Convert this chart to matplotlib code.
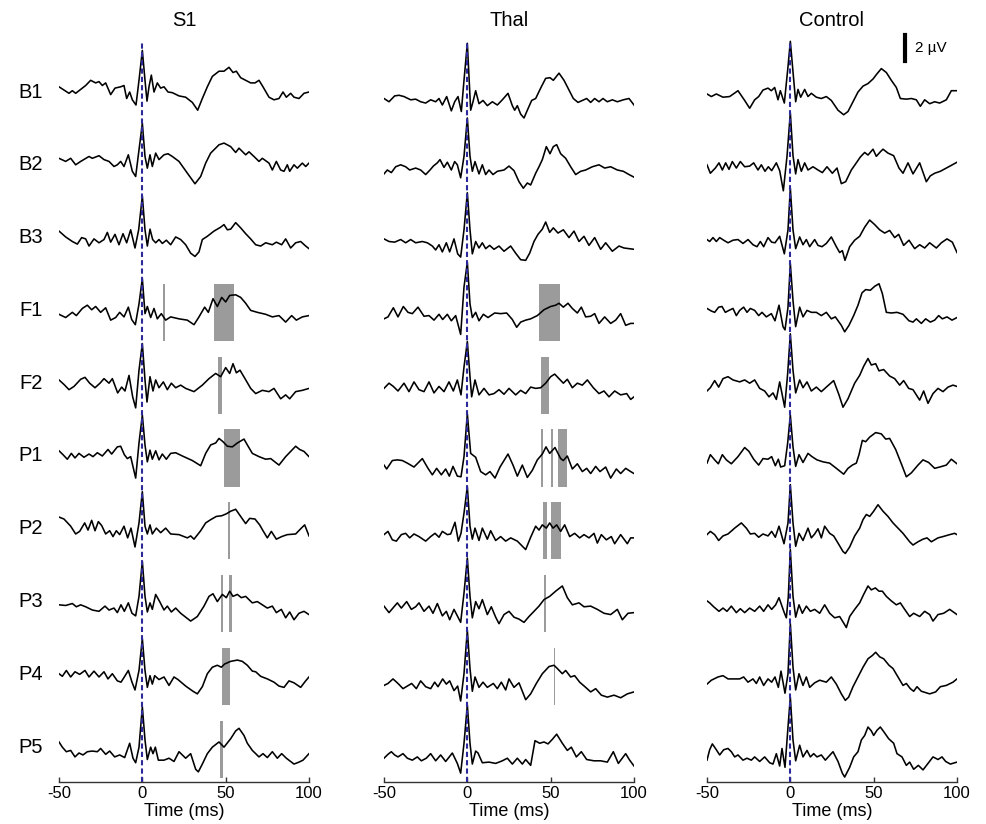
import matplotlib
matplotlib.use("Agg")
import matplotlib.pyplot as plt

plt.rcParams["font.family"] = ["Liberation Sans", "DejaVu Sans"]
plt.rcParams["axes.unicode_minus"] = False

COLUMNS = ["S1", "Thal", "Control"]
ROWS = ["B1", "B2", "B3", "F1", "F2", "P1", "P2", "P3", "P4", "P5"]
XTICKS = [-50, 0, 50, 100]
ROW_STEP = 5.6  # uV between stacked traces
SCALE_UV = 2

# averaged traces, (time ms, amplitude uV)
S1_B1 = [(-50, 0.4), (-44, -0.1), (-42, 0.1), (-40, -0.1), (-34, 0.5), (-31, 0.9), (-28, 0.7), (-26, 0.8),
         (-24, 0.5), (-22, 0.7), (-19, -0.2), (-16.4, 0.3), (-13, 0.4), (-11, 0.5), (-9.4, -0.5), (-7.6, 0.0),
         (-6, -0.6), (-3.8, -1.0), (-2, 0.9), (0, 3.2), (1.6, 0.9), (2.8, -0.7), (4, 0.4), (5.4, 1.3),
         (7, 0.0), (9, 0.7), (11, 0.3), (13, 0.4), (15.4, 0.0), (18, -0.05), (22, -0.3), (26, -0.4),
         (30, -0.8), (33.2, -1.4), (36, -0.5), (39, 0.4), (42, 1.2), (46, 1.6), (49, 1.6), (52, 1.9),
         (54.4, 1.5), (56.4, 1.6), (59, 1.1), (62, 0.9), (65, 0.7), (67.6, 0.7), (70, 0.9), (72.4, 0.4),
         (76, -0.4), (79, -0.6), (82, -0.5), (84.4, 0.0), (86.4, -0.4), (89, -0.1), (91, -0.4), (94, -0.5),
         (97, -0.1), (100, 0.0)]
S1_B2 = [(-50, 0.5), (-46, 0.26), (-43, 0.5), (-40, 0.0), (-37, 0.26), (-32, 0.64), (-30, 0.5), (-26, 0.7),
         (-23, 0.4), (-20, 0.26), (-17, -0.13), (-15, 0.0), (-13, 0.26), (-11, -0.13), (-8.4, 0.77), (-6, -0.5),
         (-4, -0.9), (-2, 1.15), (0, 3.2), (1.6, 0.64), (3, -0.26), (4.6, 0.77), (6, -0.13), (8, 0.9),
         (10, 0.4), (13, 0.77), (15.4, 0.85), (18, 0.64), (22, 0.26), (27, -0.64), (31.6, -1.46), (35, -0.9),
         (38, 0.13), (41, 0.9), (46, 1.54), (49, 1.67), (53, 1.4), (56, 0.95), (58, 1.28), (62, 0.77),
         (64, 1.0), (67, 0.64), (70, 0.26), (72, 0.5), (76, 0.13), (78, -0.4), (80.4, 0.26), (83, -0.4),
         (85, -0.5), (87, 0.0), (88.4, -0.5), (91, 0.0), (93, -0.26), (96, 0.13), (98, -0.13), (100, 0.13)]
S1_B3 = [(-50, 0.5), (-46, 0.05), (-42, -0.3), (-39, -0.5), (-36.4, 0.0), (-34, -0.1), (-32, -0.65), (-29, -0.1),
         (-26, -0.4), (-23, -0.15), (-21, 0.4), (-19, -0.35), (-16.4, 0.25), (-14, -0.55), (-11.6, 0.3), (-9.4, -0.4),
         (-7, 0.6), (-4.4, -0.8), (-2.2, 0.6), (0, 3.2), (1.6, 0.6), (3, -0.65), (4.6, 0.65), (6.2, -0.15),
         (8, -0.4), (10, -0.15), (12, -0.45), (14.4, -0.2), (17, -0.55), (20, 0.05), (23, -0.15), (26, -0.55),
         (29, -1.2), (31.6, -1.45), (34, -1.1), (36, -0.15), (39, 0.1), (43, 0.5), (47, 0.8), (49, 1.0),
         (51, 0.6), (53, 0.65), (56, 1.15), (59, 0.75), (62, 0.3), (65, -0.1), (68, -0.55), (71, -0.65),
         (74, -0.4), (78, -0.55), (80.4, -0.35), (83.6, -0.55), (86, -0.1), (89, -0.8), (92, -0.4), (95, -0.3),
         (98, -0.65), (100, -0.85)]
S1_F1 = [(-50, -0.3), (-46, -0.55), (-42, -0.15), (-39.6, -0.4), (-36, 0.15), (-33, 0.4), (-30.4, 0.05), (-28, 0.3),
         (-25, -0.15), (-22, 0.2), (-19, -0.75), (-16, -0.55), (-13.6, -0.15), (-11, -0.5), (-8.4, 0.25), (-6.4, -0.7),
         (-4.2, -1.1), (-2, 0.5), (0, 2.45), (1.6, -0.25), (3, 0.3), (5, -0.55), (7, 0.15), (9, -0.65),
         (11.4, -0.25), (14, -0.75), (17, -0.5), (22, -0.65), (27, -0.75), (31, -1.1), (34, -0.5), (37.4, 0.25),
         (39.6, -0.15), (42.4, 0.9), (45, 0.3), (47.6, 1.0), (50, 0.65), (52.4, 1.15), (56, 1.2), (59, 1.0),
         (62, 0.55), (65, 0.0), (69, -0.15), (74, -0.3), (78, -0.5), (82, -0.4), (86, -0.9), (89.6, -0.4),
         (92.4, -0.75), (96, -0.5), (100, -0.4)]
S1_F2 = [(-50, 0.25), (-47, -0.1), (-44, -0.5), (-41, -0.25), (-37, 0.3), (-34.4, 0.45), (-31.6, 0.0), (-28.4, -0.35),
         (-25.4, 0.0), (-23, 0.35), (-20, 0.0), (-18, 0.35), (-14.8, -0.75), (-12.4, -0.3), (-10.4, -0.6), (-8, 0.6),
         (-5.8, -1.05), (-4, -1.9), (-2, 1.0), (0, 3.05), (1.6, 0.25), (2.8, -1.45), (4.6, 0.5), (6.4, -0.6),
         (8, 0.25), (10, -0.35), (12.6, 0.1), (15, -0.5), (17.4, 0.0), (20, -0.35), (23, -0.15), (26, -0.4),
         (31, -0.65), (36, -0.15), (40, 0.35), (44, 0.75), (47, 0.5), (50, 1.2), (52.4, 0.75), (54.4, 1.5),
         (56.4, 0.8), (58.6, 1.0), (61.6, 0.35), (65, -0.4), (68, -0.8), (72, -0.55), (76, -0.65), (79, -0.4),
         (83, -1.2), (86, -0.9), (88.4, -1.2), (92, -0.65), (96, -0.55), (100, -0.4)]
S1_P1 = [(-50, 0.4), (-47.6, 0.1), (-45, -0.25), (-42.6, 0.2), (-40.4, -0.15), (-38, 0.2), (-35, -0.1), (-32, 0.15),
         (-29.6, -0.05), (-27, 0.25), (-24, 0.0), (-20.6, 0.5), (-18.4, 0.15), (-15, 0.7), (-13, 0.75), (-10.8, 0.1),
         (-9, -0.2), (-7, -0.05), (-4, -1.7), (-2, 1.0), (0, 3.15), (1.6, 0.85), (3, -0.45), (4.6, 0.45),
         (6, -0.25), (8, 0.4), (10, -0.3), (12, 0.15), (14.4, -0.25), (17, 0.2), (20, 0.25), (24, 0.0),
         (30, -0.35), (35, -0.75), (38, 0.2), (41, 0.85), (44, 1.0), (46, 1.35), (48.4, 1.1), (51, 0.75),
         (54, 0.7), (57, 1.0), (61, 1.3), (63, 0.85), (66, 0.2), (70, -0.05), (74, -0.25), (77, -0.2),
         (82, -0.7), (86, -0.05), (89, 0.35), (92, 0.75), (94.4, 0.5), (97, 0.35), (100, -0.05)]
S1_P2 = [(-50, 0.9), (-47, 0.75), (-43, 0.2), (-40, -0.4), (-37.6, -0.2), (-34.6, 0.45), (-32.6, -0.1), (-30.4, 0.65),
         (-28.4, -0.15), (-26.4, 0.55), (-24.4, 0.25), (-22, -0.4), (-19.6, -0.15), (-17.6, -0.6), (-15.6, -0.15), (-13.6, -0.45),
         (-11, 0.2), (-8.8, -0.7), (-6.8, 0.05), (-4.4, -1.4), (-2, 0.45), (0, 2.85), (1.6, 0.2), (3, -0.4),
         (4.6, 0.3), (6, -0.4), (8.4, 0.05), (11, -0.3), (14, 0.05), (17, -0.4), (22, -0.45), (27, -0.7),
         (29, -0.55), (31, -0.8), (35, -0.15), (38, 0.45), (41, 0.7), (44.4, 0.95), (47.6, 1.0), (50.4, 1.15),
         (53, 1.35), (56, 1.5), (59, 0.95), (62, 0.4), (64.4, 0.8), (67.6, 0.75), (70.4, 0.3), (72.4, -0.15),
         (75, -0.7), (77.4, -0.2), (80.4, -0.8), (83.6, -0.6), (87, -0.45), (92, -0.4), (95.4, 0.05), (97.4, 0.3),
         (100, -0.55)]
S1_P3 = [(-50, -0.25), (-46, -0.3), (-42, -0.15), (-39.6, -0.4), (-37, -0.25), (-34, -0.4), (-30, -0.65), (-26, -0.75),
         (-22.4, -0.35), (-20, -0.65), (-17, -0.5), (-15, -0.85), (-12.8, -0.25), (-10.8, -0.75), (-8.4, -0.1), (-6.2, -0.9),
         (-4, -1.1), (-2, 0.4), (0, 3.1), (1.6, 0.4), (3, -0.8), (4.6, -0.1), (6, -0.6), (8, 0.55),
         (10.4, 0.0), (13, -0.65), (15, -0.35), (17.4, -0.8), (20, -0.5), (23, -0.9), (26, -1.2), (29, -1.5),
         (33, -1.15), (37, -0.35), (40, 0.4), (42.4, 0.6), (45, 0.0), (48, 0.55), (50.4, 0.3), (52.4, 0.8),
         (54.4, 0.4), (57, 0.55), (59.4, 0.3), (62, 0.4), (66, -0.1), (69, 0.0), (72, -0.25), (75, -0.5),
         (78, -0.35), (80.4, -0.85), (83.4, -0.6), (86, -1.25), (88.4, -0.8), (91, -1.4), (94, -0.9), (97, -0.75),
         (100, -1.0)]
S1_P4 = [(-50, 0.05), (-48, -0.15), (-45.6, 0.3), (-43, -0.2), (-40.4, 0.2), (-37.6, 0.0), (-34.4, 0.3), (-32, -0.2),
         (-29, 0.25), (-26, -0.2), (-23, 0.2), (-20.6, -0.35), (-18, 0.05), (-15, -0.5), (-12.8, -0.6), (-10.8, -0.2),
         (-8.4, 0.3), (-6.2, -0.6), (-4.4, -1.2), (-2, 0.3), (0, 2.75), (1.6, 0.3), (3, -1.0), (4.6, -0.1),
         (6, -0.75), (7.4, -0.1), (10, -0.4), (13, -0.2), (16, -0.85), (19, -0.2), (21.4, -0.4), (26, -0.9),
         (30.4, -1.3), (33, -1.5), (36, -0.95), (39, 0.05), (42, 0.55), (45, 0.7), (47.4, 0.55), (49.4, 0.8),
         (53, 1.0), (57, 1.1), (60, 1.0), (63, 0.7), (66, 0.25), (68, 0.2), (71, -0.15), (75, -0.35),
         (79, -0.6), (82, -0.9), (85, -1.0), (88, -0.5), (91, -0.65), (95, -1.0), (98, -0.5), (100, -0.2)]
S1_P5 = [(-50, 0.4), (-48, 0.0), (-45.6, -0.35), (-43, -0.25), (-40.4, -0.75), (-38, -0.45), (-35.6, -0.6), (-33, -0.35),
         (-30, -0.3), (-27, -0.35), (-25, -0.1), (-22, -0.55), (-19.6, -0.3), (-16.6, -0.75), (-13.6, -0.6), (-10.6, -0.8),
         (-7.6, 0.3), (-5.6, -0.85), (-4, -1.2), (-2, 0.0), (0, 3.1), (1.6, 0.55), (3, -0.95), (5, 0.0),
         (6.4, -0.5), (7.8, 0.0), (9.6, -1.0), (13, -1.0), (16, -0.85), (19, -1.1), (22, -0.35), (26, -0.85),
         (29, -0.5), (32, -1.7), (33.6, -1.9), (36, -1.3), (39, -0.5), (42, 0.0), (46, 0.4), (49, 0.0),
         (53, 0.65), (56, 1.25), (58, 1.45), (61, 0.9), (63, 0.3), (66, -0.25), (70, -0.75), (72.4, -0.5),
         (75, -0.8), (78, -0.35), (81, -0.85), (83.6, -0.5), (86.4, -0.85), (91, -1.3), (94, -1.15), (96.4, -1.0),
         (100, -0.5)]

THAL_B1 = [(-50, -0.5), (-47, -0.75), (-43.6, -0.3), (-41, -0.25), (-38, -0.35), (-34, -0.6), (-31, -0.55), (-28, -0.75),
           (-25, -0.85), (-22, -0.6), (-19, -0.75), (-17, -0.5), (-15, -1.0), (-12.4, -0.35), (-9.6, -1.45), (-7.6, -0.75),
           (-5.6, -0.35), (-3.6, -1.5), (-2, 0.9), (0, 3.75), (2, -1.4), (3.4, -0.75), (5, 0.1), (7, -0.9),
           (9.4, -0.65), (12, -1.05), (15, -0.75), (18, -1.0), (21, -0.6), (24.4, -0.1), (27, -1.05), (28.4, -1.4),
           (30, -1.05), (32, -1.7), (34, -2.0), (36, -1.4), (38.6, -0.65), (41, -0.5), (44, 0.3), (47, 1.05),
           (49.6, 1.1), (51.6, 0.9), (55, 1.45), (58, 0.9), (61, 0.15), (63.6, -0.5), (66.4, -0.8), (69, -0.65),
           (71.6, -0.5), (74, -0.8), (76.4, -0.5), (79, -0.75), (81.4, -0.5), (84, -0.75), (87, -0.6), (90, -0.75),
           (93.6, -0.6), (97, -0.5), (100, -1.0)]
THAL_B2 = [(-50, -0.7), (-48, -0.4), (-45.6, -0.6), (-43, -0.15), (-40, 0.0), (-37, -0.15), (-34.6, -0.4), (-31, -0.25),
           (-28, -0.4), (-25, -0.75), (-22.4, -0.4), (-20.4, -0.1), (-18, 0.15), (-16.4, 0.4), (-14, -0.2), (-12, 0.2),
           (-9.6, -0.4), (-7.6, 0.25), (-6, 0.0), (-4, -1.0), (-2, 0.65), (0, 3.6), (1.6, 0.65), (3, -0.5),
           (4.6, 0.25), (7, -0.7), (9, 0.0), (11, -0.75), (13, -0.4), (15.4, -0.75), (18, -0.5), (22, -0.4),
           (25, -0.1), (28, -0.45), (31, -1.3), (33.6, -1.8), (36, -1.4), (38, -1.55), (41, -0.65), (43, -0.15),
           (45, 0.4), (47.4, 1.4), (49.6, 0.85), (51.6, 1.4), (53.6, 1.55), (56, 0.85), (59, 0.5), (62, -0.15),
           (65, -0.75), (68, -0.5), (71, -0.4), (75, -0.15), (79, 0.0), (82.4, -0.25), (86, -0.15), (90, -0.4),
           (93.6, -0.5), (97, -0.75), (100, -0.95)]
THAL_B3 = [(-50, -0.1), (-47, -0.3), (-43.6, -0.35), (-40, -0.15), (-37, -0.4), (-34, -0.15), (-31, -0.4), (-27, -0.3),
           (-24, -0.4), (-21, -0.65), (-19, -0.95), (-17, -0.55), (-15, -1.1), (-12.6, -0.4), (-10.6, -1.1), (-8, -0.1),
           (-5.8, -1.25), (-4, -1.5), (-2, 0.6), (0, 3.45), (1.6, 0.6), (3, -1.25), (5, -0.3), (7, -0.8),
           (9, -0.4), (11, -0.85), (13.4, -0.6), (16, -0.9), (19, -0.65), (22, -1.05), (26, -0.65), (29, -1.2),
           (32, -1.7), (35, -1.75), (37.4, -1.2), (40, -0.3), (42.4, 0.25), (45, 0.65), (47, 1.2), (49.4, 0.4),
           (51.6, 0.75), (54.4, 0.35), (57.6, 0.6), (61, 0.0), (64, 0.5), (67, -0.3), (70, 0.1), (73, -0.6),
           (76.4, 0.0), (80, -0.9), (83, -0.4), (87, -1.05), (91, -0.65), (94, -0.8), (97, -0.85), (100, -0.9)]
THAL_F1 = [(-50, -0.65), (-47.6, -0.5), (-44.4, 0.2), (-41.6, -0.5), (-38.4, 0.3), (-35.6, -0.15), (-33, -0.25), (-29.6, 0.25),
           (-26, -0.45), (-23, -0.4), (-20, -0.75), (-17, -0.3), (-14.8, -0.7), (-12, -0.3), (-9.6, -0.8), (-7, -0.4),
           (-4, -1.85), (-2, 1.8), (0, 3.7), (1.6, 0.5), (3, -0.55), (5, -0.15), (7, -0.8), (9.6, -0.3),
           (12.4, -0.55), (16.4, -0.2), (20, -0.25), (23.6, -0.2), (27, -0.7), (29.6, -1.3), (32, -0.9), (35, -0.75),
           (38, -0.65), (42, -0.4), (46, 0.05), (50, 0.3), (53, 0.4), (55, 0.55), (57.6, 0.25), (60.4, 0.55),
           (63, 0.15), (66, -0.2), (68.4, 0.25), (71, -0.5), (74, -0.45), (76.4, -0.25), (79, -1.0), (82.4, -0.5),
           (86, -1.0), (89, -0.75), (92, -0.25), (95, -1.15), (98, -1.0), (100, -1.0)]
THAL_F2 = [(-50, -0.4), (-47, 0.0), (-44.4, -0.25), (-41.6, -0.6), (-38, 0.0), (-35, -0.65), (-32, 0.1), (-29, -0.5),
           (-26, -0.65), (-23, 0.1), (-20, -0.75), (-17, -0.25), (-14, -0.65), (-11, 0.1), (-8.4, -0.6), (-6, 0.25),
           (-3.8, -0.9), (-2, 1.25), (0, 3.2), (1.6, 0.5), (2.6, -1.05), (4.6, 0.25), (7, -0.9), (10, -0.4),
           (13, -0.9), (16, -0.8), (19, -0.5), (22, -0.85), (25, -0.4), (29, -0.9), (32, -0.55), (35, -0.8),
           (38, -0.3), (41, -0.4), (44, -0.35), (47, 0.0), (50, 0.5), (52.4, 0.7), (55, 0.35), (57.6, 0.0),
           (60, 0.3), (63, -0.35), (66, 0.0), (69, -0.15), (72, 0.25), (75.6, -0.35), (79, -0.8), (82, -0.6),
           (85, -1.05), (88.4, -0.6), (92, -0.9), (95.6, -0.8), (98, -1.25), (100, -1.05)]
THAL_P1 = [(-50, -0.7), (-48.4, -1.0), (-45, -0.35), (-42, -0.3), (-39, -0.35), (-36, -0.55), (-32, -0.85), (-27, -0.2),
           (-23.6, -0.95), (-21, -1.45), (-18.4, -0.95), (-15.6, -1.45), (-13, -1.0), (-10.8, -1.55), (-8.6, -0.8), (-6, -1.55),
           (-3.8, -1.6), (-2, -0.05), (0, 3.25), (2, 0.2), (5, -0.1), (8, -1.2), (11, -1.45), (13.6, -1.2),
           (16.6, -1.7), (19.6, -0.85), (24.4, 0.15), (27.4, -0.7), (30, -1.55), (33, -0.7), (36, -1.65), (39, -1.1),
           (42, -0.3), (45, 0.15), (47.2, 0.7), (49.4, 0.2), (52.6, 0.65), (56, -0.2), (57.6, -0.35), (60, 0.0),
           (63, -1.0), (66, -0.6), (69, -1.2), (71.6, -0.95), (74, -1.35), (77, -0.8), (79.6, -1.2), (83, -0.85),
           (86, -1.7), (89.4, -1.0), (92, -1.35), (95, -0.95), (98, -1.2), (100, -1.35)]
THAL_P2 = [(-50, -0.45), (-47.6, -0.2), (-45, -0.85), (-42.6, -0.95), (-39.6, -0.45), (-37, -0.35), (-34.6, -0.7), (-32, -0.4),
           (-29, -0.6), (-25, -0.95), (-22, -0.6), (-19.4, -0.35), (-17, -0.65), (-15, -0.2), (-12, -0.45), (-10, -0.4),
           (-7.4, 0.5), (-5.4, -0.95), (-3.8, -0.35), (-2, 1.2), (0, 3.25), (1.6, 0.2), (3, -0.8), (4.6, 0.05),
           (7, -0.9), (9, 0.05), (12, -0.8), (14, -0.15), (17, -0.9), (20, -0.6), (23, -0.95), (26, -0.7),
           (30, -0.95), (35, -1.6), (38, -0.65), (41, 0.2), (43, -0.1), (45, 0.3), (47.4, 0.05), (49.4, 0.45),
           (51.4, 0.05), (53.6, 0.3), (56, -0.2), (58.4, 0.3), (61.4, -0.6), (64.4, -0.35), (67.4, -0.7), (70, -0.45),
           (73, -0.7), (76, -0.35), (78, -1.1), (80.4, -0.45), (83.4, -0.85), (86.4, -0.6), (88.4, -1.15), (92, -0.45),
           (96, -1.15), (98, -0.7), (100, -0.7)]
THAL_P3 = [(-50, -0.35), (-47, -0.85), (-44, -0.4), (-42, -0.1), (-39.6, -0.5), (-36.4, 0.0), (-33.6, -0.6), (-31, -0.4),
           (-29, -0.1), (-26, -0.75), (-23, -0.35), (-20.6, -0.9), (-18, -0.15), (-15, -1.1), (-12.6, -0.75), (-10.6, -1.4),
           (-8, -0.6), (-4, -1.6), (-2, 0.65), (0, 3.35), (1.6, 0.4), (3, -1.25), (5, 0.0), (7, -0.55),
           (9, 0.15), (12, -1.0), (14.4, -0.4), (17, -1.2), (19, -1.7), (22, -1.0), (25, -0.75), (28, -1.2),
           (31, -1.35), (34, -1.6), (37, -1.15), (40, -0.75), (43, -0.35), (46, 0.15), (49.4, 0.4), (53, 0.8),
           (57, 1.2), (60, 0.3), (63, -0.25), (67, -0.1), (70, -0.4), (74, -0.35), (78, -0.6), (82, -0.9),
           (86, -1.0), (90, -0.6), (93, -1.4), (96.4, -0.9), (100, -0.85)]
THAL_P4 = [(-50, -0.85), (-47.6, -0.7), (-44.6, -0.35), (-41.6, -0.7), (-38.6, -1.1), (-36, -0.9), (-33.4, -0.7), (-30.6, -1.1),
           (-28, -0.5), (-25, -0.95), (-22, -1.1), (-19.6, -0.6), (-17.6, -0.95), (-14.8, -0.35), (-12.6, -0.75), (-10.6, -0.5),
           (-8, -1.25), (-5.8, -0.9), (-4, -2.05), (-2, 0.05), (0, 3.4), (1.6, 0.45), (3, -1.3), (4.6, -0.2),
           (7, -1.0), (9.4, -0.6), (12, -1.0), (15.6, -0.7), (18, -1.1), (20.4, -0.6), (23, -1.2), (25, -0.35),
           (28, -1.0), (31, -0.65), (35, -1.95), (38, -1.5), (41.4, -0.7), (45, 0.05), (49, 0.6), (52, 0.7),
           (54, 0.45), (57, 0.05), (59, 0.3), (62, -0.2), (64.4, -0.1), (67.4, -0.6), (71, -1.0), (74, -1.35),
           (77, -1.1), (80.4, -1.6), (84, -1.75), (88, -1.6), (92, -1.8), (96, -1.5), (100, -1.35)]
THAL_P5 = [(-50, -0.85), (-47.6, -0.55), (-45.6, -0.35), (-43.6, -0.6), (-41.6, -0.75), (-38.6, -0.5), (-36, -0.85), (-33, -1.0),
           (-30, -0.75), (-27.6, -1.05), (-24.6, -0.85), (-22, -0.5), (-19, -1.05), (-16, -0.6), (-13, -1.1), (-9, -0.45),
           (-6, -1.25), (-4, -2.0), (-2, 0.3), (0, 3.25), (1.6, 0.3), (3, -1.3), (5, -0.3), (6.4, -0.45),
           (9, -1.2), (13, -1.15), (17, -1.25), (21, -1.05), (24, -0.85), (27, -1.3), (30, -0.85), (33, -1.3),
           (35, -0.95), (38, -1.4), (40.6, 0.5), (43.4, 0.3), (46, 0.4), (48.4, 0.25), (51, 0.6), (53.6, 1.0),
           (57, 0.3), (60, -0.25), (62.4, 0.0), (65.4, -0.75), (68.4, -0.35), (71.6, -0.95), (76, -1.05), (80, -1.05),
           (84, -1.15), (87.6, -0.35), (90.6, -1.25), (95, -0.5), (97.4, -1.0), (100, -1.45)]

CONTROL_B1 = [(-50, -0.15), (-47.4, -0.35), (-44.4, -0.15), (-40.4, -0.4), (-36.4, -0.35), (-31.4, 0.1), (-27.4, -0.65), (-24.4, -1.25),
              (-21.4, -0.6), (-19, -0.35), (-16.4, 0.15), (-13.4, 0.3), (-11.4, 0.1), (-9.4, 0.35), (-7.4, -0.6), (-6, 0.1),
              (-3.6, -0.85), (-1.4, 1.95), (0, 3.9), (1.6, 1.55), (3.2, -0.75), (4.6, 0.2), (6.2, -0.4), (8.6, 0.2),
              (10.6, -0.35), (12.6, -0.1), (15.6, -0.4), (18.6, -0.5), (21.6, -0.35), (24.6, -0.65), (28.6, -1.4), (32, -1.75),
              (34.6, -1.5), (37.6, -0.75), (40.6, 0.0), (43.6, 0.45), (46.6, 0.65), (49.6, 1.0), (52, 1.4), (54.6, 1.8),
              (57.6, 1.5), (60.6, 0.9), (63.6, 0.35), (66, -0.5), (69.6, -0.55), (72.6, -0.5), (75.6, -0.6), (78, -1.1),
              (80.6, -0.6), (83.6, -0.9), (86.6, -0.75), (89.6, -0.85), (93.6, -0.6), (96.6, 0.1), (100, 0.1)]
CONTROL_B2 = [(-50, 0.0), (-48, -0.65), (-45, -0.25), (-42.8, 0.15), (-40.8, -0.4), (-38.8, 0.15), (-36.8, -0.35), (-34.8, 0.25),
              (-32.4, -0.25), (-30, 0.25), (-27.4, -0.15), (-24.4, -0.1), (-22, 0.15), (-19.4, -0.4), (-17.4, 0.0), (-15.2, -0.5),
              (-13.2, -0.15), (-11.2, -0.45), (-8.4, 0.15), (-6.4, -0.45), (-4.2, -2.0), (-2, 0.65), (0, 4.0), (1.6, 0.7),
              (3.2, -0.7), (4.6, 0.4), (6.6, -0.5), (8.6, 0.15), (10.6, -0.4), (13.6, -0.15), (16.6, -0.4), (19.2, -0.6),
              (22, -0.15), (25.2, -0.65), (28, -0.25), (30.6, -1.45), (33.2, -1.3), (36.6, -0.4), (39.6, 0.15), (42, 0.6),
              (44.6, 0.95), (46.6, 0.75), (49.6, 1.2), (51.6, 0.65), (54, 1.0), (55.6, 1.2), (58.6, 0.9), (62, 0.7),
              (65.2, -0.25), (67.6, -0.65), (70.6, 0.15), (73.6, -0.7), (77.6, 0.15), (81.6, -1.3), (84, -0.85), (86.6, -0.65),
              (90, -0.5), (93.6, -0.25), (97.2, 0.0), (100, 0.2)]
CONTROL_B3 = [(-50, -0.15), (-48.4, -0.3), (-46.4, 0.0), (-44.4, -0.3), (-42.4, 0.0), (-40, -0.2), (-37.4, -0.4), (-34.4, -0.2),
              (-31.4, -0.15), (-28.4, -0.45), (-25.4, -0.15), (-22.4, -0.55), (-20, -0.7), (-18, -0.3), (-16, -0.7), (-13.4, 0.0),
              (-11.2, -0.35), (-9.2, -0.4), (-6.4, 0.1), (-3.6, -1.25), (-1.4, 0.6), (0, 3.8), (1.6, 0.6), (3.2, -0.85),
              (5.6, 0.05), (7.6, -0.55), (9.6, -0.15), (11.6, -0.7), (14.6, -0.15), (16.6, -0.6), (19, -0.7), (21.6, -0.45),
              (24.6, 0.05), (27.6, -0.7), (29.6, -1.15), (31.2, -1.0), (32.8, -1.75), (35.6, -0.7), (38.6, -0.2), (41.6, 0.1),
              (44.6, 0.8), (47.6, 1.35), (50.6, 1.0), (53.6, 0.6), (56.6, 0.35), (59.6, 0.55), (62.6, 0.0), (65, 0.25),
              (68, -0.6), (71.2, -0.2), (74.6, -0.85), (77.6, -0.55), (80.6, -0.8), (83.6, -0.4), (87.6, -0.8), (90.6, -0.4),
              (94, -0.1), (97.2, -0.35), (100, -1.15)]
CONTROL_F1 = [(-50, 0.15), (-47.4, -0.05), (-45.4, -0.15), (-43, 0.25), (-41, 0.3), (-39, -0.15), (-36.8, 0.0), (-34.4, 0.15),
              (-32.4, -0.4), (-30.4, 0.0), (-28, 0.25), (-26, -0.15), (-24, 0.15), (-21.4, 0.0), (-19, -0.4), (-17, -0.15),
              (-14.4, -0.5), (-11.4, -0.25), (-9.2, -0.8), (-6.8, 0.4), (-4.4, -1.25), (-3.2, -1.5), (-1.4, 0.25), (0, 3.6),
              (1.6, 0.75), (3.2, -1.25), (5.6, 0.25), (7.6, -0.5), (10, 0.0), (12.6, -0.15), (15.6, -0.15), (18.6, -0.4),
              (21.6, -0.15), (24.6, -0.65), (27, -0.5), (30.6, -1.15), (32.6, -1.65), (35.2, -1.15), (38, -0.4), (40.6, 0.4),
              (43, 1.35), (45.2, 1.6), (48, 1.55), (50.6, 1.85), (53.2, 2.05), (55.2, 1.3), (57.6, -0.15), (60.6, -0.2),
              (64, -0.15), (67.6, -0.3), (71.2, -0.8), (73.6, -0.9), (75.6, -0.65), (78.6, -1.0), (81.2, -0.65), (84, -0.9),
              (86.6, -0.75), (89, -0.4), (91.2, -0.65), (94, -0.5), (97, -0.75), (100, -0.55)]
CONTROL_F2 = [(-50, -0.6), (-48, -0.35), (-45.4, 0.2), (-43, -0.3), (-40.4, 0.35), (-37.4, 0.5), (-34.4, 0.25), (-30.4, 0.1),
              (-27.4, 0.25), (-24.4, 0.0), (-21.4, 0.25), (-18.4, -0.4), (-15.4, -0.6), (-12.8, -1.05), (-10.4, -0.75), (-8.4, -1.25),
              (-6.4, 0.1), (-3.4, -1.85), (-1.6, 0.75), (0, 3.8), (1.6, 1.0), (3.2, -0.75), (5.6, 0.25), (7.6, -0.35),
              (10, 0.1), (12.6, -0.6), (15.6, -0.3), (18.6, -0.65), (21.6, -0.3), (26, 0.2), (29.2, -0.9), (31.6, -1.85),
              (34.6, -1.2), (38.6, 0.0), (41.6, 0.6), (44, 1.3), (46.6, 1.9), (48.6, 1.4), (51.2, 1.5), (53.2, 0.95),
              (56, 1.05), (59.6, 0.55), (62.6, 0.35), (65.6, -0.15), (68, 0.2), (71, -0.4), (73.6, -0.5), (77.6, -1.3),
              (80, -0.6), (82.6, -1.55), (85.6, -0.8), (88.6, -0.4), (91.6, -0.65), (94.6, -0.3), (97.6, -0.15), (100, -0.25)]
CONTROL_P1 = [(-50, -0.55), (-48, 0.1), (-45.4, -0.3), (-43.2, -0.6), (-40.8, 0.1), (-38.4, -0.3), (-35.4, -0.6), (-31.4, -0.05),
              (-27.4, 0.65), (-24.8, 0.35), (-22, -0.25), (-19, -0.7), (-16.4, -0.2), (-13.4, -0.25), (-11.2, -0.05), (-9, -0.75),
              (-7.2, -0.25), (-5.8, -0.85), (-3.4, -0.75), (-1.6, 1.0), (0, 3.15), (1.6, 0.7), (3.2, -0.8), (5.2, 0.1),
              (7.6, -0.5), (10.6, 0.2), (13, -0.05), (16, -0.3), (19.6, -0.45), (23.6, -0.55), (27.6, -0.95), (32, -1.4),
              (34.6, -0.95), (37.2, -0.7), (39.6, -0.55), (41.2, 0.1), (43.2, 1.2), (45.2, 1.1), (47.6, 1.45), (51.2, 1.8),
              (54.6, 1.7), (57.2, 1.3), (59.6, 1.35), (63.2, 0.5), (66.6, -0.6), (69.6, -1.6), (72.6, -1.3), (76.6, -0.7),
              (79.6, -0.3), (83, -0.5), (86.6, -0.95), (89.6, -0.85), (93.6, -0.7), (96.6, -0.25), (100, -0.6)]
CONTROL_P2 = [(-50, -0.45), (-48, -0.2), (-45.4, -0.45), (-43, -0.9), (-40.4, -0.55), (-37.4, -0.4), (-33.4, 0.05), (-29.4, 0.45),
              (-26.4, 0.05), (-24, -0.4), (-21.4, -0.35), (-19, -0.65), (-16.4, -0.4), (-13.4, -0.55), (-11.2, -0.2), (-9, -0.65),
              (-6.8, 0.2), (-3.8, -1.15), (-1.4, 0.45), (0, 3.4), (1.6, 0.45), (3.2, -1.35), (5.2, -0.35), (7.6, -0.9),
              (10.6, 0.05), (12.6, -0.7), (14.6, -0.4), (16.6, 0.0), (18.6, -0.7), (20.6, 0.2), (23.6, -0.35), (26, -0.55),
              (28.6, -1.1), (31.6, -1.75), (33, -1.9), (35.6, -1.4), (38.6, -0.55), (41.6, 0.05), (43.6, 0.7), (45.6, 1.1),
              (47.6, 0.95), (50, 1.35), (52.6, 1.85), (55.6, 1.35), (58.6, 0.95), (61.6, 0.45), (64.6, 0.05), (67.6, -0.35),
              (71.6, -1.0), (73.6, -1.25), (76.6, -1.0), (79.6, -0.8), (82, -0.7), (84.6, -1.0), (88.6, -0.7), (91.6, -0.6),
              (95.6, -0.45), (98.6, -0.35), (100, -0.45)]
CONTROL_P3 = [(-50, 0.05), (-48.4, -0.1), (-46, -0.4), (-42.8, -0.75), (-40.4, -0.5), (-38, -0.75), (-35.4, -0.35), (-32.4, -0.85),
              (-30, -0.55), (-27.4, -0.85), (-24.4, -0.5), (-21.4, -0.75), (-18.4, -0.35), (-16, -0.75), (-13.4, -0.25), (-11.2, -0.6),
              (-8.8, -0.25), (-6.8, 0.3), (-3.8, -0.8), (-2.4, -1.25), (-1.2, 0.4), (0, 4.0), (1.6, 0.4), (3.2, -1.2),
              (5.2, -0.25), (7.2, -0.9), (9.6, -0.35), (12, -0.75), (14.6, -0.6), (17.6, -0.9), (20.6, -0.25), (23.6, -0.9),
              (26.6, -1.25), (29.6, -1.15), (32, -1.65), (33.6, -2.0), (35.6, -1.15), (38.6, -0.6), (41.6, -0.1), (44, 0.55),
              (46.6, 1.2), (48.6, 0.9), (51, 1.05), (53.2, 0.8), (55.2, 0.8), (57.6, 0.4), (60.6, 0.05), (63.6, -0.25),
              (66, -0.1), (68.6, -0.6), (71.6, -1.15), (74, -0.9), (77.6, -1.15), (80.6, -0.75), (83.6, -1.0), (85.6, -1.5),
              (88.6, -1.0), (92, -0.9), (95.6, -0.6), (100, -1.0)]
CONTROL_P4 = [(-50, -0.75), (-47.4, -0.45), (-43.4, -0.2), (-40.4, -0.1), (-37.4, -0.35), (-33.4, -0.35), (-30.4, -0.35), (-28, -0.2),
              (-25.4, -0.6), (-22.4, -0.35), (-20.4, -0.7), (-18.4, -0.2), (-16, -0.85), (-13.4, -0.35), (-11.2, -0.6), (-9.2, -0.2),
              (-7.2, -1.0), (-5.6, 0.25), (-3.2, -1.45), (-1.4, 0.05), (0, 3.9), (1.6, 0.55), (3.2, -1.2), (5.2, 0.05),
              (7.6, -0.85), (9.6, -0.2), (11.6, -1.0), (14.6, -0.65), (17.6, -0.45), (21.6, -0.6), (24.6, -0.2), (27.6, -0.75),
              (30.6, -1.5), (33, -2.0), (35, -1.75), (37.6, -0.95), (40.6, -0.2), (43.6, 0.55), (46.6, 1.2), (49.2, 1.45),
              (51.2, 1.7), (53.6, 1.35), (56, 1.2), (59.2, 0.7), (61.6, 0.45), (64.6, -0.2), (67.6, -0.85), (69.6, -0.7),
              (72, -1.1), (74, -1.3), (76, -0.95), (78.6, -1.3), (83.6, -1.5), (87.2, -1.35), (90, -0.95), (93.6, -0.85),
              (97.6, -0.6), (100, -0.35)]
CONTROL_P5 = [(-50, -1.0), (-48.4, -0.2), (-46.8, 0.25), (-44.4, -0.2), (-42.4, -0.6), (-40, -0.2), (-37.4, -0.1), (-35.4, -0.35),
              (-33.4, -0.75), (-31.4, -0.6), (-28.4, -1.0), (-26, -0.85), (-23.4, -1.0), (-21.4, -0.75), (-18.4, -1.1), (-15.4, -0.75),
              (-12.4, -1.2), (-10.4, -1.3), (-8.4, -0.5), (-6.4, -1.45), (-5, -0.1), (-3.2, -1.55), (-1.4, 1.55), (0, 3.85),
              (1.6, 0.55), (3.2, -1.05), (5.6, 0.15), (7.6, -0.75), (10, -0.25), (12, -0.75), (14, -0.5), (16, -0.75),
              (18.6, -0.6), (21, -1.0), (25.6, -0.35), (28.6, -1.1), (31.2, -2.0), (32.6, -2.3), (35.6, -1.55), (38, -0.75),
              (40.6, -0.35), (42.6, 0.55), (44.6, 0.9), (46.6, 1.55), (48.6, 1.25), (50, 0.9), (52, 1.3), (54, 1.55),
              (56, 1.2), (59, 0.65), (62, 0.3), (64, -0.5), (67, -0.75), (69.6, -1.4), (71.6, -1.15), (74, -1.7),
              (76.8, -1.4), (79.6, -1.75), (82.6, -1.25), (85.6, -0.75), (88.6, -0.95), (91, -0.75), (93.2, -1.1), (96, -1.3),
              (100, -1.15)]

S1_TRACES = [S1_B1, S1_B2, S1_B3, S1_F1, S1_F2, S1_P1, S1_P2, S1_P3, S1_P4, S1_P5]
THAL_TRACES = [THAL_B1, THAL_B2, THAL_B3, THAL_F1, THAL_F2, THAL_P1, THAL_P2, THAL_P3, THAL_P4, THAL_P5]
CONTROL_TRACES = [CONTROL_B1, CONTROL_B2, CONTROL_B3, CONTROL_F1, CONTROL_F2,
                  CONTROL_P1, CONTROL_P2, CONTROL_P3, CONTROL_P4, CONTROL_P5]

# significant windows (ms), keyed by row index
S1_SIG = {3: [(12.4, 13.6), (43, 51.2), (51.6, 55)], 4: [(45.4, 48)], 5: [(49, 58.4)],
          6: [(51.4, 52.8)], 7: [(47, 48.6), (52.2, 53.8)], 8: [(47.8, 52.8)], 9: [(46.6, 48.6)]}
THAL_SIG = {3: [(43, 55.4)], 4: [(44, 49)], 5: [(44, 45.4), (50.4, 51.4), (54.4, 59.6)],
            6: [(45.2, 47.6), (50.2, 56.4)], 7: [(46, 47.4)], 8: [(51.8, 52.8)]}
CONTROL_SIG = {}

W, H = 987, 824
LEFTS = [59, 384, 707]
Y_TOP, Y_BOT = 4.77, -53.08

fig = plt.figure(figsize=(W / 100, H / 100), dpi=100)
panels = zip(COLUMNS, [S1_TRACES, THAL_TRACES, CONTROL_TRACES], [S1_SIG, THAL_SIG, CONTROL_SIG])
for col, (name, traces, sig) in enumerate(panels):
    ax = fig.add_axes([LEFTS[col] / W, 1 - 782 / H, 250 / W, 752 / H])
    ax.set_xlim(-50, 100)
    ax.set_ylim(Y_BOT, Y_TOP)

    for k, tr in enumerate(traces):
        off = -ROW_STEP * k
        for a, b in sig.get(k, []):
            ax.fill_between([a, b], off - 2.35, off + 2.05, color="#9b9b9b", lw=0, zorder=1)
        t = [p[0] for p in tr]
        v = [p[1] + off for p in tr]
        ax.plot(t, v, color="black", lw=1.15, solid_joinstyle="round", zorder=2)
        if col == 0:
            ax.text(-0.064, off, ROWS[k], transform=ax.get_yaxis_transform(),
                    ha="right", va="center", fontsize=14.5)

    ax.plot([0, 0], [Y_BOT, 3.77], color="#2b2a9a", lw=1.5, dashes=(2.5, 1.5), zorder=3)

    ax.set_title(name, fontsize=14.5, pad=1.5)
    for s in ("top", "right", "left"):
        ax.spines[s].set_visible(False)
    ax.spines["bottom"].set_linewidth(1.0)
    ax.spines["bottom"].set_color("#333333")
    ax.set_yticks([])
    ax.set_xticks(XTICKS)
    ax.tick_params(axis="x", direction="in", length=3.3, width=1.0, labelsize=12, pad=3, color="#333333")
    ax.set_xlabel("Time (ms)", fontsize=13, labelpad=1)

    if name == "Control":
        ax.plot([68.8, 68.8], [2.35, 2.35 + SCALE_UV], color="black", lw=3, solid_capstyle="projecting")
        ax.text(74.8, 3.4, f"{SCALE_UV} µV", ha="left", va="center", fontsize=11)

fig.savefig("out.png", dpi=100)
